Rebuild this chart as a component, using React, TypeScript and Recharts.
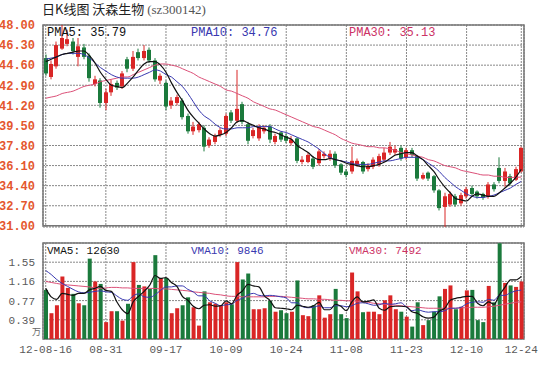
import React from "react";
import {
  ComposedChart,
  Bar,
  Line,
  XAxis,
  YAxis,
  CartesianGrid,
  ReferenceArea,
  Cell,
} from "recharts";

// trading days 2012-08-16 .. 2012-12-24
const DATES = [
  "08-16", "08-17", "08-20", "08-21", "08-22", "08-23", "08-24", "08-27", "08-28", "08-29", "08-30", "08-31",
  "09-03", "09-04", "09-05", "09-06", "09-07", "09-10", "09-11", "09-12", "09-13", "09-14",
  "09-17", "09-18", "09-19", "09-20", "09-21", "09-24", "09-25", "09-26", "09-27", "09-28",
  "10-08", "10-09", "10-10", "10-11", "10-12", "10-15", "10-16", "10-17", "10-18", "10-19",
  "10-22", "10-23", "10-24", "10-25", "10-26", "10-29", "10-30", "10-31",
  "11-01", "11-02", "11-05", "11-06", "11-07", "11-08", "11-09", "11-12", "11-13", "11-14", "11-15", "11-16",
  "11-19", "11-20", "11-21", "11-22", "11-23", "11-26", "11-27", "11-28", "11-29", "11-30",
  "12-03", "12-04", "12-05", "12-06", "12-07", "12-10", "12-11", "12-12", "12-13", "12-14",
  "12-17", "12-18", "12-19", "12-20", "12-21", "12-24",
];

const TICK_DATES = ["08-16", "08-31", "09-17", "10-09", "10-24", "11-08", "11-23", "12-10", "12-24"];

const OPEN = [
  45.2, 43.6, 44.5, 46.0, 46.4, 46.6, 45.3, 46.1, 45.4, 43.0,
  43.3, 41.4, 42.3, 43.1, 42.8, 45.1, 44.3, 45.7, 45.2, 45.9,
  45.0, 43.3, 43.1, 41.2, 41.4, 41.6, 40.3, 39.0, 39.1, 39.3,
  37.8, 38.1, 38.7, 38.8, 40.6, 39.9, 41.3, 39.6, 38.6, 38.4,
  39.0, 39.4, 38.1, 38.9, 38.6, 38.0, 38.4, 36.4, 36.4, 36.7,
  36.3, 36.9, 36.7, 37.1, 36.2, 35.6, 35.6, 36.2, 36.4, 35.8,
  36.0, 36.2, 36.6, 37.2, 37.2, 37.6, 36.8, 37.4, 36.9, 35.0,
  35.5, 35.2, 34.0, 32.6, 32.8, 33.5, 32.9, 33.5, 34.2, 33.9,
  33.7, 33.5, 34.5, 35.9, 34.8, 35.2, 34.9, 35.6,
];
const CLOSE = [
  43.9, 44.7, 46.3, 46.9, 46.8, 45.8, 46.2, 45.3, 43.5, 43.4,
  41.4, 42.3, 43.0, 42.7, 43.9, 44.3, 45.3, 45.2, 45.8, 45.0,
  43.4, 43.7, 41.1, 41.6, 41.9, 40.2, 39.0, 39.4, 39.6, 37.7,
  38.3, 38.6, 39.1, 40.3, 39.9, 40.9, 39.8, 38.2, 39.1, 39.4,
  39.3, 38.3, 38.6, 38.3, 38.2, 38.3, 36.5, 36.6, 37.0, 36.0,
  37.3, 37.1, 37.1, 36.1, 35.5, 35.3, 36.5, 36.5, 35.6, 36.1,
  36.6, 36.9, 37.2, 37.7, 37.5, 36.7, 37.4, 37.0, 35.0, 35.3,
  35.0, 34.0, 32.5, 33.5, 33.7, 32.8, 33.6, 34.1, 33.7, 33.5,
  33.4, 34.5, 34.1, 34.8, 35.6, 34.6, 35.8, 37.6,
];
const HIGH = [
  45.5, 45.0, 46.6, 48.0, 47.6, 46.9, 46.9, 46.4, 45.6, 43.7,
  43.5, 42.6, 43.4, 43.3, 44.1, 45.3, 45.8, 46.0, 46.3, 46.1,
  45.2, 43.9, 43.3, 41.9, 42.1, 41.8, 40.5, 39.8, 39.8, 39.5,
  38.5, 38.8, 39.3, 40.5, 40.8, 44.2, 41.5, 39.8, 39.3, 39.6,
  39.5, 39.6, 38.8, 39.0, 38.8, 38.6, 38.5, 36.9, 37.2, 36.9,
  37.5, 37.3, 37.4, 37.3, 36.3, 35.8, 37.7, 36.7, 36.5, 36.3,
  36.8, 37.1, 37.6, 38.1, 37.8, 37.8, 37.6, 37.6, 37.0, 35.5,
  35.6, 35.3, 34.1, 33.8, 33.9, 33.7, 33.8, 34.3, 34.4, 34.0,
  33.8, 34.7, 34.7, 36.8, 35.9, 35.4, 36.0, 37.7,
];
const LOW = [
  43.7, 43.4, 44.3, 45.9, 46.2, 45.5, 44.5, 45.1, 43.2, 42.8,
  41.0, 40.8, 42.0, 42.5, 42.6, 44.0, 44.1, 45.0, 45.0, 44.8,
  43.2, 43.0, 40.8, 40.9, 41.2, 40.0, 38.8, 38.7, 38.9, 37.3,
  37.6, 37.9, 38.5, 38.6, 39.7, 39.7, 39.6, 37.9, 38.4, 38.2,
  38.8, 38.0, 37.9, 38.1, 38.0, 37.8, 36.3, 36.2, 36.3, 35.8,
  36.1, 36.7, 36.5, 35.9, 35.3, 35.1, 35.4, 36.0, 35.4, 35.6,
  35.8, 36.0, 36.4, 37.0, 37.0, 36.5, 36.6, 36.8, 34.8, 34.9,
  34.8, 33.8, 32.3, 30.9, 32.6, 32.6, 32.7, 33.3, 33.5, 33.3,
  33.2, 33.3, 33.9, 34.6, 34.3, 34.4, 34.8, 35.5,
];

// price moving averages
const PMA5 = [
  44.9, 45.1, 45.3, 45.5, 45.6, 45.7, 45.8, 45.8, 45.4, 44.8,
  44.0, 43.4, 42.9, 42.8, 42.7, 43.1, 43.6, 44.2, 44.7, 44.9,
  44.9, 44.6, 44.0, 43.1, 42.3, 41.6, 40.8, 40.2, 39.7, 39.2,
  38.8, 38.6, 38.7, 38.9, 39.3, 39.8, 39.9, 39.7, 39.5, 39.3,
  39.2, 39.0, 38.9, 38.7, 38.5, 38.3, 37.8, 37.5, 37.2, 36.8,
  36.6, 36.6, 36.7, 36.6, 36.5, 36.3, 36.2, 36.1, 36.0, 36.0,
  36.1, 36.2, 36.4, 36.7, 37.0, 37.1, 37.2, 37.2, 36.9, 36.6,
  36.1, 35.6, 34.9, 34.3, 33.8, 33.3, 33.2, 33.1, 33.5, 33.7,
  33.6, 33.5, 33.5, 33.8, 34.2, 34.6, 35.1, 35.79,
];
const PMA10 = [
  45.1, 45.2, 45.3, 45.5, 45.6, 45.6, 45.6, 45.5, 45.2, 44.8,
  44.4, 44.1, 43.8, 43.6, 43.5, 43.5, 43.5, 43.6, 43.8, 44.0,
  44.2, 44.1, 43.8, 43.6, 43.2, 42.8, 42.2, 41.5, 40.8, 40.3,
  40.0, 39.6, 39.3, 39.2, 39.2, 39.3, 39.3, 39.3, 39.4, 39.4,
  39.4, 39.4, 39.2, 39.0, 38.9, 38.7, 38.5, 38.3, 38.1, 37.8,
  37.5, 37.1, 36.8, 36.6, 36.5, 36.4, 36.3, 36.2, 36.2, 36.2,
  36.3, 36.4, 36.5, 36.5, 36.6, 36.7, 36.8, 36.8, 36.8, 36.6,
  36.3, 36.0, 35.6, 35.1, 34.7, 34.3, 34.0, 33.7, 33.5, 33.4,
  33.4, 33.5, 33.6, 33.8, 34.0, 34.2, 34.5, 34.76,
];
const PMA30 = [
  41.8, 41.9, 42.0, 42.2, 42.3, 42.4, 42.6, 42.8, 42.9, 43.0,
  43.2, 43.3, 43.4, 43.5, 43.6, 43.6, 43.8, 44.0, 44.2, 44.4,
  44.6, 44.7, 44.7, 44.6, 44.5, 44.3, 44.1, 43.9, 43.6, 43.4,
  43.2, 43.0, 42.8, 42.5, 42.4, 42.2, 42.0, 41.8, 41.5, 41.3,
  41.1, 40.9, 40.8, 40.6, 40.4, 40.2, 40.0, 39.8, 39.6, 39.4,
  39.3, 39.1, 38.9, 38.7, 38.4, 38.2, 38.0, 37.9, 37.8, 37.7,
  37.7, 37.6, 37.6, 37.5, 37.4, 37.2, 37.1, 37.0, 36.9, 36.8,
  36.6, 36.5, 36.3, 36.1, 36.0, 35.9, 35.7, 35.6, 35.5, 35.4,
  35.3, 35.3, 35.2, 35.2, 35.1, 35.1, 35.1, 35.13,
];

// volume in 万 shares
const VOL = [
  0.99, 0.52, 0.68, 1.26, 1.03, 0.91, 0.72, 0.68, 1.62, 1.16,
  1.11, 0.34, 0.56, 0.56, 0.37, 0.71, 1.55, 1.09, 1.06, 1.01,
  1.69, 1.23, 1.23, 0.52, 0.62, 0.68, 0.84, 0.64, 0.27, 0.96,
  0.74, 0.71, 0.68, 0.74, 0.70, 1.55, 1.20, 1.32, 0.60, 0.60,
  0.62, 0.77, 0.55, 0.58, 0.52, 0.55, 1.18, 0.48, 0.46, 0.68,
  0.88, 0.43, 0.50, 1.01, 0.50, 0.42, 1.34, 0.96, 0.54, 0.55,
  0.55, 0.50, 0.78, 0.88, 0.60, 0.55, 0.45, 0.25, 0.74, 0.28,
  0.38, 0.55, 0.86, 1.01, 1.08, 0.60, 0.65, 0.98, 0.99, 0.38,
  0.34, 1.07, 0.74, 1.93, 1.13, 1.08, 1.05, 1.16,
];
const VMA5 = [
  1.02, 0.85, 0.80, 0.92, 0.90, 0.88, 0.92, 0.92, 0.99, 1.02,
  1.06, 0.98, 0.96, 0.75, 0.59, 0.51, 0.75, 0.86, 0.96, 1.08,
  1.28, 1.22, 1.24, 1.14, 1.06, 0.86, 0.78, 0.66, 0.61, 0.68,
  0.69, 0.66, 0.67, 0.77, 0.71, 0.88, 0.97, 1.10, 1.07, 1.05,
  0.87, 0.78, 0.63, 0.62, 0.61, 0.59, 0.68, 0.66, 0.64, 0.67,
  0.74, 0.59, 0.59, 0.70, 0.66, 0.57, 0.75, 0.85, 0.75, 0.76,
  0.79, 0.62, 0.58, 0.65, 0.66, 0.66, 0.65, 0.55, 0.52, 0.45,
  0.42, 0.44, 0.56, 0.62, 0.78, 0.82, 0.84, 0.86, 0.86, 0.72,
  0.67, 0.75, 0.70, 0.89, 1.04, 1.19, 1.19, 1.263,
];
const VMA10 = [
  1.38, 1.30, 1.20, 1.12, 1.06, 1.00, 0.95, 0.93, 0.94, 0.96,
  0.97, 0.95, 0.94, 0.87, 0.80, 0.78, 0.87, 0.91, 0.85, 0.84,
  0.89, 0.98, 1.05, 1.05, 1.07, 1.07, 1.00, 0.95, 0.87, 0.87,
  0.77, 0.72, 0.67, 0.69, 0.70, 0.78, 0.82, 0.89, 0.92, 0.88,
  0.87, 0.88, 0.87, 0.85, 0.83, 0.73, 0.73, 0.65, 0.63, 0.64,
  0.67, 0.63, 0.63, 0.67, 0.67, 0.65, 0.67, 0.72, 0.73, 0.71,
  0.68, 0.69, 0.72, 0.70, 0.71, 0.73, 0.64, 0.57, 0.59, 0.56,
  0.54, 0.55, 0.55, 0.57, 0.62, 0.62, 0.64, 0.71, 0.74, 0.75,
  0.74, 0.80, 0.78, 0.88, 0.88, 0.93, 0.97, 0.9846,
];
const VMA30 = [
  1.16, 1.14, 1.12, 1.10, 1.09, 1.08, 1.07, 1.06, 1.05, 1.03,
  1.02, 1.03, 1.04, 1.04, 1.03, 1.03, 1.02, 1.02, 1.02, 1.02,
  1.02, 1.01, 1.01, 1.00, 0.99, 0.98, 0.97, 0.95, 0.94, 0.93,
  0.92, 0.90, 0.89, 0.87, 0.86, 0.86, 0.85, 0.85, 0.85, 0.85,
  0.85, 0.86, 0.86, 0.86, 0.85, 0.84, 0.83, 0.82, 0.81, 0.81,
  0.80, 0.80, 0.79, 0.78, 0.78, 0.77, 0.77, 0.76, 0.75, 0.74,
  0.72, 0.71, 0.70, 0.69, 0.68, 0.67, 0.66, 0.65, 0.64, 0.63,
  0.62, 0.62, 0.62, 0.62, 0.62, 0.62, 0.63, 0.63, 0.64, 0.64,
  0.64, 0.65, 0.66, 0.68, 0.70, 0.72, 0.74, 0.7492,
];

const PRICE_TICKS = [31.0, 32.7, 34.4, 36.1, 37.8, 39.5, 41.2, 42.9, 44.6, 46.3, 48.0];
const VOL_TICKS = [0.387, 0.774, 1.161, 1.548];

const RED = "#d92626";
const GREEN = "#1b7a3c";
const BLUE = "#3838b0";
const PINK = "#dc5078";
const GRID = "#888";
const MONO = '"Liberation Mono", "DejaVu Sans Mono", monospace';

const data = DATES.map((date, i) => ({
  date,
  open: OPEN[i],
  close: CLOSE[i],
  high: HIGH[i],
  low: LOW[i],
  range: [LOW[i], HIGH[i]],
  pma5: PMA5[i],
  pma10: PMA10[i],
  pma30: PMA30[i],
  vol: VOL[i],
  vma5: VMA5[i],
  vma10: VMA10[i],
  vma30: VMA30[i],
}));

const Candle = (props: any) => {
  const { x, y, width, height, payload } = props;
  if (!payload || height == null) return null;
  const { open, close, high, low } = payload;
  const top = Math.min(y, y + height);
  const h = Math.abs(height);
  const ratio = high === low ? 0 : h / (high - low);
  const yOf = (v: number) => top + (high - v) * ratio;
  const color = close >= open ? RED : GREEN;
  const bx = Math.round(x + width / 2 - 2);
  const bodyTop = yOf(Math.max(open, close));
  const bodyBot = yOf(Math.min(open, close));
  return (
    <g>
      <line x1={bx + 2} x2={bx + 2} y1={top} y2={top + h} stroke={color} strokeWidth={1} />
      <rect x={bx} y={bodyTop} width={4} height={Math.max(1, bodyBot - bodyTop)} fill={color} />
    </g>
  );
};

const label = (left: number, top: number, color: string, size: number, text: string) => (
  <div
    style={{
      position: "absolute",
      left,
      top,
      color,
      fontFamily: MONO,
      fontSize: size,
      lineHeight: "14px",
      whiteSpace: "pre",
    }}
  >
    {text}
  </div>
);

const App: React.FC = () => {
  return (
    <div style={{ position: "relative", width: 550, height: 367, background: "#fff", overflow: "hidden" }}>
      <style>{"body{margin:0}"}</style>

      <div
        style={{
          position: "absolute",
          left: 42,
          top: 1,
          fontFamily: '"Noto Sans CJK SC", sans-serif',
          fontSize: 13,
          lineHeight: "15px",
          color: "#222",
          whiteSpace: "pre",
        }}
      >
        日K线图 沃森生物{" "}
        <span style={{ fontFamily: '"Liberation Serif", serif', fontSize: 13, color: "#555" }}>(sz300142)</span>
      </div>

      <div style={{ position: "absolute", left: 0, top: 0 }}>
        <ComposedChart width={550} height={240} data={data} margin={{ top: 25, right: 26, bottom: 13, left: 0 }} barCategoryGap={0}>
          <CartesianGrid stroke={GRID} strokeDasharray="2 1" />
          <XAxis dataKey="date" ticks={TICK_DATES} hide />
          <YAxis
            domain={[31, 48]}
            ticks={PRICE_TICKS}
            width={43}
            axisLine={false}
            tickLine={false}
            tickMargin={2}
            interval={0}
            tickFormatter={(v: number) => v.toFixed(2)}
            tick={{ fill: "#e4572e", fontSize: 12, fontFamily: MONO, fontWeight: 700 }}
          />
          <Bar dataKey="range" shape={<Candle />} isAnimationActive={false} />
          <Line type="monotone" dataKey="pma30" stroke={PINK} strokeWidth={1} dot={false} isAnimationActive={false} />
          <Line type="monotone" dataKey="pma10" stroke={BLUE} strokeWidth={1} dot={false} isAnimationActive={false} />
          <Line type="monotone" dataKey="pma5" stroke="#111" strokeWidth={1.2} dot={false} isAnimationActive={false} />
          <ReferenceArea y1={31} y2={48} fill="none" stroke="#777" strokeWidth={1.5} ifOverflow="visible" />
        </ComposedChart>
      </div>

      <div style={{ position: "absolute", left: 0, top: 230 }}>
        <ComposedChart width={550} height={137} data={data} margin={{ top: 13, right: 26, bottom: 4, left: 0 }} barCategoryGap={0}>
          <CartesianGrid stroke={GRID} strokeDasharray="2 1" />
          <XAxis
            dataKey="date"
            ticks={TICK_DATES}
            interval={0}
            height={24}
            axisLine={false}
            tickLine={false}
            tickSize={4}
            tickMargin={2}
            tickFormatter={(v: string) => (v === DATES[0] ? "12-" + v : v)}
            tick={{ fill: "#5a5a5a", fontSize: 11, fontFamily: MONO }}
          />
          <YAxis
            domain={[0, 1.935]}
            ticks={VOL_TICKS}
            width={43}
            axisLine={false}
            tickLine={false}
            tickMargin={2}
            interval={0}
            allowDataOverflow
            tickFormatter={(v: number) => v.toFixed(2)}
            tick={{ fill: "#5a5a5a", fontSize: 11, fontFamily: MONO }}
          />
          <Bar dataKey="vol" barSize={4} isAnimationActive={false}>
            {data.map((d, i) => (
              <Cell key={i} fill={d.close >= d.open ? RED : GREEN} />
            ))}
          </Bar>
          <Line type="monotone" dataKey="vma30" stroke={PINK} strokeWidth={1} dot={false} isAnimationActive={false} />
          <Line type="monotone" dataKey="vma10" stroke={BLUE} strokeWidth={1} dot={false} isAnimationActive={false} />
          <Line type="monotone" dataKey="vma5" stroke="#111" strokeWidth={1.2} dot={false} isAnimationActive={false} />
          <ReferenceArea y1={0} y2={1.935} fill="none" stroke="#777" strokeWidth={1.5} ifOverflow="visible" />
        </ComposedChart>
      </div>

      <div style={{ position: "absolute", left: 32, top: 325, fontSize: 9, color: "#666", fontFamily: '"Noto Sans CJK SC", sans-serif' }}>
        万
      </div>

      {label(47, 26, "#111", 12, "PMA5: 35.79")}
      {label(191, 26, BLUE, 12, "PMA10: 34.76")}
      {label(349, 26, "#cc3366", 12, "PMA30: 35.13")}
      {label(47, 244, "#111", 11, "VMA5: 12630")}
      {label(191, 244, BLUE, 11, "VMA10: 9846")}
      {label(349, 244, "#cc3366", 11, "VMA30: 7492")}
    </div>
  );
};

export default App;
